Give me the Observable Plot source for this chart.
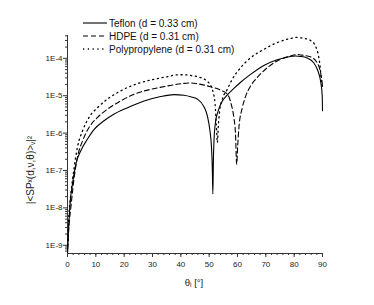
<!DOCTYPE html>
<html><head><meta charset="utf-8">
<script src="https://cdn.jsdelivr.net/npm/d3@7"></script>
<script src="https://cdn.jsdelivr.net/npm/@observablehq/plot@0.6"></script>
<style>
body{margin:0;background:#fff;}
#chart{position:relative;width:374px;height:305px;font-family:"Liberation Sans",Arial,sans-serif;}
</style></head><body><div id="chart"></div>
<script>
// angle (deg), log10 of |<SP>|^2
const teflon = [[0.05,-9.19],[0.3,-8.7],[0.59,-8.25],[1.0,-7.8],[1.76,-7.36],[2.94,-6.83],[4.7,-6.47],[7.05,-6.16],[9.4,-5.90],[12.9,-5.67],[16.5,-5.49],[21.2,-5.32],[27.0,-5.14],[32.9,-5.02],[37.6,-4.97],[41.1,-4.99],[43.5,-5.03],[45.8,-5.09],[48.2,-5.30],[49.4,-5.55],[50.3,-5.95],[50.8,-6.35],[51.1,-6.9],[51.3,-7.63],[51.5,-6.7],[51.7,-6.21],[52.3,-5.67],[53.0,-5.45],[54.1,-5.22],[56.4,-4.98],[58.8,-4.80],[61.1,-4.64],[64.6,-4.43],[69.3,-4.19],[74.0,-4.04],[78.7,-3.95],[80.5,-3.94],[82.2,-3.95],[84.6,-3.99],[86.9,-4.12],[88.4,-4.34],[89.3,-4.60],[89.9,-5.0],[90,-5.4]];
const hdpe = [[0.05,-9.1],[0.5,-8.5],[1.18,-7.99],[2.35,-7.19],[3.5,-6.65],[5.3,-6.21],[7.6,-5.85],[10.6,-5.58],[14.1,-5.36],[18.8,-5.14],[23.5,-4.96],[29.4,-4.83],[35.3,-4.74],[40.0,-4.68],[43.5,-4.66],[45.8,-4.68],[50.5,-4.76],[54.0,-4.85],[56.4,-4.96],[57.8,-5.23],[58.7,-5.58],[59.3,-6.03],[59.7,-6.83],[60.1,-6.3],[60.5,-5.85],[61.7,-5.32],[62.9,-5.01],[64.6,-4.74],[66.9,-4.52],[70.5,-4.25],[74.0,-4.07],[78.7,-3.94],[81.0,-3.90],[82.2,-3.91],[85.7,-3.96],[88.1,-4.12],[89.2,-4.34],[89.8,-4.6],[90,-4.75]];
const polypropylene = [[0.05,-9.0],[0.5,-8.2],[1.18,-7.63],[2.35,-6.92],[3.5,-6.38],[5.3,-5.94],[7.6,-5.58],[10.6,-5.32],[14.1,-5.09],[18.8,-4.87],[23.5,-4.71],[29.4,-4.58],[35.3,-4.49],[39.0,-4.44],[41.1,-4.44],[43.5,-4.46],[45.8,-4.49],[49.4,-4.62],[51.1,-4.83],[52.1,-5.23],[52.5,-5.76],[52.9,-6.25],[53.2,-5.85],[53.7,-5.41],[54.6,-5.10],[56.4,-4.83],[58.0,-4.58],[61.1,-4.25],[64.6,-3.99],[69.3,-3.76],[74.0,-3.58],[78.7,-3.47],[81.0,-3.44],[82.2,-3.45],[85.7,-3.52],[87.5,-3.67],[88.6,-3.94],[89.2,-4.25],[89.6,-4.6],[90,-4.75]];

const seriesNames = ["Teflon (d = 0.33 cm)", "HDPE (d = 0.31 cm)", "Polypropylene (d = 0.31 cm)"];
const seriesData = [teflon, hdpe, polypropylene];
const seriesDash = [null, "5,3", "1.2,3.6"];

const xMajor = [0,10,20,30,40,50,60,70,80,90];
const xMinor = d3.range(0, 91, 2);
const yMajorExp = [-9,-8,-7,-6,-5,-4];
const yDomainExp = [-9.22, -3.39];
const xLabel = "θᵢ [°]";
const yLabel = "|<SPˣ(d,ν,θ)>ᵥ|²";

const yMajor = yMajorExp.map(e => 10 ** e);
const yMinor = [];
for (let e = -10; e <= -4; e++) for (let k = 2; k <= 9; k++) {
  const v = k * 10 ** e;
  if (v >= 10 ** yDomainExp[0] && v <= 10 ** yDomainExp[1]) yMinor.push(v);
}
const yMin = 10 ** yDomainExp[0];

const lineMarks = seriesData.map((s, i) => Plot.line(s.map(([a, l]) => ({a, v: 10 ** l})), {
  x: "a", y: "v", stroke: "#000", strokeWidth: i === 2 ? 1.3 : 1.1,
  strokeDasharray: seriesDash[i] || undefined, curve: "monotone-x"
}));

const chart = Plot.plot({
  width: 374, height: 305,
  marginLeft: 67, marginRight: 52, marginTop: 35, marginBottom: 52,
  style: {fontFamily: '"Liberation Sans", Arial, sans-serif', fontSize: "8px", color: "#222", background: "#fff", overflow: "visible"},
  x: {domain: [0, 90]},
  y: {type: "log", domain: [10 ** yDomainExp[0], 10 ** yDomainExp[1]]},
  marks: [
    Plot.ruleX([0], {stroke: "#333", strokeWidth: 1}),
    Plot.ruleY([yMin], {stroke: "#333", strokeWidth: 1}),
    Plot.axisX({ticks: xMajor, tickSize: 4, tickPadding: 4, tickFormat: d => String(d), label: null, stroke: "#333"}),
    Plot.axisX({ticks: xMinor, tickSize: 2, tickFormat: () => "", label: null, stroke: "#333"}),
    Plot.axisY({ticks: yMajor, tickSize: 4, tickPadding: 1, tickFormat: d => "1E" + Math.round(Math.log10(d)), label: null, stroke: "#333"}),
    Plot.axisY({ticks: yMinor, tickSize: 2, tickFormat: () => "", label: null, stroke: "#333"}),
    ...lineMarks
  ]
});
document.getElementById("chart").appendChild(chart);

const svg = d3.select(chart);
svg.append("text").attr("x", 194).attr("y", 286).attr("text-anchor", "middle")
  .attr("font-size", 9.5).attr("fill", "#222").text(xLabel);
svg.append("text").attr("transform", "translate(34,170) rotate(-90)").attr("text-anchor", "middle")
  .attr("font-size", 10).attr("fill", "#222").text(yLabel);

// legend
const leg = svg.append("g").attr("font-size", 10).attr("fill", "#111").attr("text-anchor", "start");
const rowY = [23, 36, 49];
seriesNames.forEach((name, i) => {
  const ln = leg.append("line").attr("x1", 83).attr("x2", 107).attr("y1", rowY[i]).attr("y2", rowY[i])
    .attr("stroke", "#000").attr("stroke-width", i === 2 ? 1.3 : 1.1);
  if (seriesDash[i]) ln.attr("stroke-dasharray", seriesDash[i]);
  leg.append("text").attr("x", 109).attr("y", rowY[i]).attr("dy", "0.35em").attr("text-anchor", "start").text(name);
});
</script>
</body></html>
